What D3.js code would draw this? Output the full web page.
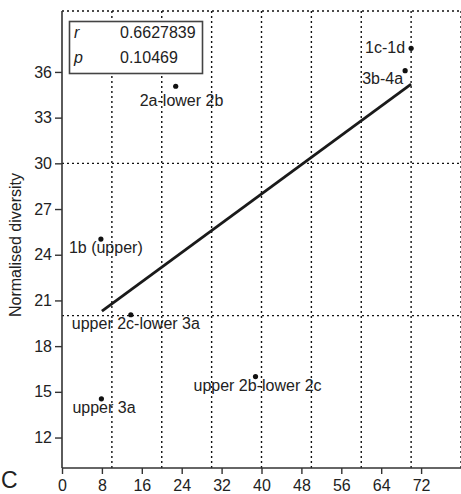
<!DOCTYPE html>
<html>
<head>
<meta charset="utf-8">
<script src="https://cdn.jsdelivr.net/npm/d3@7"></script>
<style>
	body{margin:0;background:#fff;}
	svg text{font-family:"Liberation Sans",Arial,sans-serif;fill:#222;}
</style>
</head>
<body>
<svg id="chart" width="461" height="494"></svg>
<script>
// data
var labels = ["1c-1d","3b-4a","2a-lower 2b","1b (upper)","upper 2c-lower 3a","upper 3a","upper 2b-lower 2c"];
var xValues = [70, 68.8, 22.8, 7.8, 13.8, 7.9, 38.8];
var yValues = [37.55, 36.08, 35.06, 25.03, 20.06, 14.54, 16.0];
var fitX = [8, 70];
var fitY = [20.3, 35.2];
var xTicks = [0,8,16,24,32,40,48,56,64,72];
var yTicks = [12,15,18,21,24,27,30,33,36];
var xGrid = [10,20,30,40,50,60,70,80];
var yGrid = [20,30,40];
var stats = [["r","0.6627839"],["p","0.10469"]];

// where each label sits relative to its dot
var placement = [
	{anchor:"end",dx:-6,dy:5},
	{anchor:"end",dx:-2,dy:13},
	{anchor:"start",dx:-36,dy:20},
	{anchor:"start",dx:-32,dy:14},
	{anchor:"start",dx:-59,dy:14},
	{anchor:"start",dx:-29,dy:14},
	{anchor:"start",dx:-62,dy:14}
];

var svg = d3.select("#chart");
var padL = 62, padR = 461, padT = 11, padB = 468;
var fs = 16;

var x = d3.scaleLinear().domain([0,80]).range([padL,padR]);
var y = d3.scaleLinear().domain([10,40]).range([padB,padT]);

// dotted grid
var grid = svg.append("g")
	.attr("stroke","#111")
	.attr("stroke-width",1.4)
	.attr("stroke-dasharray","2,3");
grid.selectAll("line.v").data(xGrid).enter().append("line")
	.attr("class","v")
	.attr("x1",function(d){return x(d);}).attr("x2",function(d){return x(d);})
	.attr("y1",padT).attr("y2",padB);
grid.selectAll("line.h").data(yGrid).enter().append("line")
	.attr("class","h")
	.attr("x1",padL).attr("x2",padR)
	.attr("y1",function(d){return y(d);}).attr("y2",function(d){return y(d);});

// axes
var xAxis = svg.append("g")
	.attr("transform","translate(0,"+padB+")")
	.call(d3.axisBottom(x).tickValues(xTicks).tickSize(6).tickPadding(6).tickSizeOuter(0));
var yAxis = svg.append("g")
	.attr("transform","translate("+padL+",0)")
	.call(d3.axisLeft(y).tickValues(yTicks).tickSize(7).tickPadding(3).tickSizeOuter(0));

[xAxis,yAxis].forEach(function(a){
	a.select(".domain").attr("stroke","#333").attr("stroke-width",1.6);
	a.selectAll(".tick line").attr("stroke","#333").attr("stroke-width",1.4);
	a.selectAll(".tick text")
		.attr("font-family","'Liberation Sans',Arial,sans-serif")
		.attr("font-size",fs).attr("fill","#222");
});

// y axis line reaches the top border
yAxis.select(".domain").attr("d","M0,"+padB+"V"+padT);
xAxis.select(".domain").attr("d","M"+padL+",0H"+padR);

// fit line
var line = d3.line()
	.x(function(d){return x(d[0]);})
	.y(function(d){return y(d[1]);});
svg.append("path")
	.datum(d3.zip(fitX,fitY))
	.attr("d",line)
	.attr("fill","none")
	.attr("stroke","#1a1a1a")
	.attr("stroke-width",2.8);

// points + labels
var pts = d3.range(labels.length);
svg.selectAll("circle.pt").data(pts).enter().append("circle")
	.attr("class","pt")
	.attr("cx",function(i){return x(xValues[i]);})
	.attr("cy",function(i){return y(yValues[i]);})
	.attr("r",2.6)
	.attr("fill","#111");
svg.selectAll("text.lbl").data(pts).enter().append("text")
	.attr("class","lbl")
	.attr("x",function(i){return x(xValues[i])+placement[i].dx;})
	.attr("y",function(i){return y(yValues[i])+placement[i].dy;})
	.attr("text-anchor",function(i){return placement[i].anchor;})
	.attr("font-size",fs)
	.text(function(i){return labels[i];});

// stats box
var box = svg.append("g");
box.append("rect")
	.attr("x",69.5).attr("y",21.5).attr("width",133).attr("height",52)
	.attr("fill","#fff").attr("stroke","#444").attr("stroke-width",1.6);
stats.forEach(function(s,i){
	box.append("text").attr("x",74).attr("y",38+i*25)
		.attr("font-size",fs).attr("font-style","italic").text(s[0]);
	box.append("text").attr("x",120).attr("y",38+i*25)
		.attr("font-size",fs).text(s[1]);
});

// axis title
svg.append("text")
	.attr("transform","translate(21,245) rotate(-90)")
	.attr("text-anchor","middle")
	.attr("font-size",fs)
	.text("Normalised diversity");

// panel letter
svg.append("text")
	.attr("x",1).attr("y",488)
	.attr("font-size",23)
	.text("C");
</script>
</body>
</html>
